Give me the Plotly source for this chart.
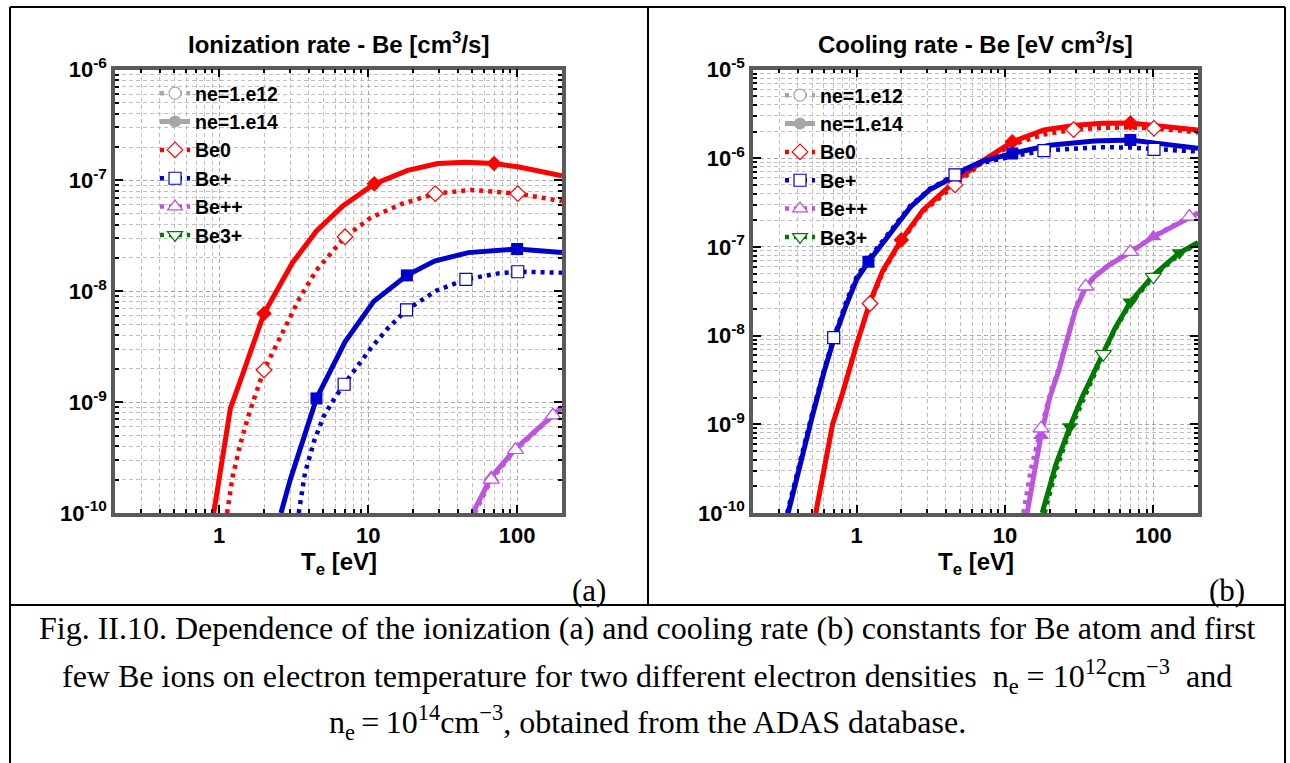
import math
import plotly.graph_objects as go

W, H = 1290, 763

# ---------------- data ----------------
# Te grid [eV] / values for panel (a): ionization rate [cm^3/s]
a_be0_e14_T = [0.92, 1.19, 1.42, 2.0, 3.1, 4.5, 6.8, 11, 18.4, 29.4, 44.6, 70, 103, 200]
a_be0_e14_v = [1.0e-10, 8.8e-10, 1.7e-9, 6.3e-9, 1.8e-8, 3.5e-8, 5.9e-8, 9.3e-8, 1.23e-7, 1.42e-7, 1.46e-7, 1.42e-7, 1.32e-7, 1.1e-7]
a_be0_e14_mk = [2.0, 11, 70]

a_be0_e12_T = [1.13, 1.23, 1.38, 1.59, 1.9, 2.0, 3.47, 4.5, 7.0, 10.4, 16.6, 28.2, 49.5, 101, 200]
a_be0_e12_v = [1.0e-10, 2.1e-10, 4.1e-10, 7.9e-10, 1.6e-9, 1.95e-9, 8.7e-9, 1.55e-8, 3.1e-8, 4.6e-8, 6.1e-8, 7.6e-8, 8.2e-8, 7.6e-8, 6.5e-8]
a_be0_e12_mk = [2.0, 7.0, 28.2, 101]

a_bep_e14_T = [2.6, 3.0, 4.5, 7.0, 10.9, 18.2, 27.9, 47, 100, 200]
a_bep_e14_v = [1.0e-10, 2.0e-10, 1.08e-9, 3.5e-9, 8.1e-9, 1.39e-8, 1.87e-8, 2.23e-8, 2.4e-8, 2.23e-8]
a_bep_e14_mk = [4.5, 18.2, 100]

a_bep_e12_T = [3.42, 3.77, 4.35, 5.04, 6.0, 6.9, 10.4, 13.5, 18.1, 28.6, 45.3, 75, 101, 200]
a_bep_e12_v = [1.0e-10, 2.3e-10, 4.5e-10, 7.5e-10, 1.1e-9, 1.45e-9, 3.05e-9, 4.6e-9, 6.8e-9, 1.01e-8, 1.28e-8, 1.45e-8, 1.5e-8, 1.47e-8]
a_bep_e12_mk = [6.9, 18.1, 45.3, 101]

a_bepp_e14_T = [50.4, 67, 97.5, 174, 200]
a_bepp_e14_v = [1.0e-10, 2.1e-10, 3.8e-10, 7.7e-10, 9.0e-10]
a_bepp_e14_mk = [67, 97.5, 174]

a_bepp_e12_T = [52, 67, 97.5, 174, 200]
a_bepp_e12_v = [1.0e-10, 2.0e-10, 3.7e-10, 7.6e-10, 8.9e-10]
a_bepp_e12_mk = [67, 97.5, 174]

# panel (b): cooling rate [eV cm^3/s]
b_be0_e14_T = [0.53, 0.6, 0.688, 0.8, 0.866, 1.0, 1.23, 1.5, 2.0, 2.8, 4.6, 7.2, 11.2, 18.3, 30, 45, 70, 100, 150, 200]
b_be0_e14_v = [1.0e-10, 3.2e-10, 1.0e-9, 2.2e-9, 3.5e-9, 8.0e-9, 2.4e-8, 5.4e-8, 1.2e-7, 2.6e-7, 5.5e-7, 9.5e-7, 1.53e-6, 2.08e-6, 2.35e-6, 2.48e-6, 2.5e-6, 2.35e-6, 2.2e-6, 2.08e-6]
b_be0_e14_mk = [2.0, 11.2, 70]

b_be0_e12_T = [0.53, 0.6, 0.688, 0.8, 0.866, 1.0, 1.23, 1.5, 2.0, 2.8, 4.6, 7.2, 11.2, 18.3, 29, 45, 70, 101, 150, 200]
b_be0_e12_v = [1.0e-10, 3.2e-10, 1.0e-9, 2.2e-9, 3.5e-9, 8.0e-9, 2.3e-8, 5.2e-8, 1.15e-7, 2.5e-7, 5.0e-7, 9.2e-7, 1.42e-6, 1.85e-6, 2.1e-6, 2.2e-6, 2.22e-6, 2.17e-6, 2.05e-6, 1.95e-6]
b_be0_e12_mk = [1.23, 4.6, 29, 101]

b_bep_e14_T = [0.345, 0.4, 0.5, 0.6, 0.7, 0.85, 1.0, 1.2, 1.7, 2.3, 3.1, 4.3, 5.3, 7.0, 11.2, 20, 40, 70, 107, 150, 200]
b_bep_e14_v = [1.0e-10, 2.8e-10, 1.2e-9, 3.8e-9, 9.0e-9, 2.2e-8, 4.3e-8, 6.8e-8, 1.42e-7, 2.8e-7, 4.4e-7, 5.9e-7, 7.4e-7, 9.2e-7, 1.13e-6, 1.4e-6, 1.56e-6, 1.6e-6, 1.47e-6, 1.38e-6, 1.29e-6]
b_bep_e14_mk = [1.2, 11.2, 70]

b_bep_e12_T = [0.34, 0.4, 0.5, 0.6, 0.7, 0.85, 1.0, 1.2, 1.7, 2.3, 3.1, 4.6, 7.0, 11.2, 18.3, 44, 70, 101, 150, 200]
b_bep_e12_v = [1.0e-10, 3.0e-10, 1.3e-9, 4.0e-9, 9.5e-9, 2.4e-8, 4.6e-8, 7.3e-8, 1.5e-7, 2.9e-7, 4.5e-7, 6.5e-7, 8.8e-7, 1.05e-6, 1.22e-6, 1.33e-6, 1.32e-6, 1.26e-6, 1.22e-6, 1.19e-6]
b_bep_e12_mk = [0.7, 4.6, 18.3, 101]

b_bepp_e14_T = [14.1, 16, 17.5, 20, 23, 26, 30, 35, 40, 50, 70, 100, 150, 200]
b_bepp_e14_v = [1.0e-10, 3.5e-10, 7.5e-10, 2.0e-9, 4.0e-9, 8.5e-9, 2.0e-8, 3.5e-8, 4.6e-8, 6.2e-8, 8.7e-8, 1.3e-7, 1.9e-7, 2.4e-7]
b_bepp_e14_mk = [17.5, 35, 100]

b_bepp_e12_T = [13.3, 15, 17.5, 20, 23, 26, 30, 35, 40, 50, 70, 100, 175, 200]
b_bepp_e12_v = [1.0e-10, 3.2e-10, 9.0e-10, 2.1e-9, 4.2e-9, 8.8e-9, 2.1e-8, 3.6e-8, 4.7e-8, 6.3e-8, 8.8e-8, 1.32e-7, 2.2e-7, 2.45e-7]
b_bepp_e12_mk = [17.5, 35, 70, 175]

b_be3p_e14_T = [17.8, 22, 27.4, 33, 38.7, 46, 55, 70, 100, 150, 200]
b_be3p_e14_v = [1.0e-10, 3.5e-10, 9.4e-10, 2.0e-9, 3.5e-9, 6.6e-9, 1.2e-8, 2.4e-8, 4.8e-8, 8.6e-8, 1.12e-7]
b_be3p_e14_mk = [27.4, 70, 150]

b_be3p_e12_T = [18.5, 22, 27.4, 33, 38.7, 46, 55, 70, 100, 150, 200]
b_be3p_e12_v = [1.0e-10, 3.0e-10, 8.5e-10, 1.8e-9, 3.2e-9, 6.2e-9, 1.15e-8, 2.3e-8, 4.6e-8, 8.3e-8, 1.1e-7]
b_be3p_e12_mk = [46, 100]

x_tick_vals = [1, 10, 100]
x_tick_text = ["1", "10", "100"]
ya_tick_exp = [-10, -9, -8, -7, -6]
yb_tick_exp = [-10, -9, -8, -7, -6, -5]

legend_labels = ["ne=1.e12", "ne=1.e14", "Be0", "Be+", "Be++", "Be3+"]
title_a = "Ionization rate - Be [cm<sup>3</sup>/s]"
title_b = "Cooling rate - Be [eV cm<sup>3</sup>/s]"
caption_lines = [
    "Fig. II.10. Dependence of the ionization (a) and cooling rate (b) constants for Be atom and first",
    "few Be ions on electron temperature for two different electron densities  n<sub>e</sub> = 10<sup>12</sup>cm<sup>\u22123</sup>  and",
    "n<sub>e</sub>\u2009=\u200910<sup>14</sup>cm<sup>\u22123</sup>, obtained from the ADAS database.",
]

# ---------------- styles ----------------
SANS = "Liberation Sans, Arial, sans-serif"
SERIF = "Liberation Serif, Times New Roman, serif"
RED, BLUE, PURPLE, GREEN, GRAY = "#ff0000", "#0000cc", "#bb55dd", "#007a00", "#a6a6a6"
DOT = "4px,5px"
LW_SOLID, LW_DOT = 5, 4.5


def X(px):
    return px / W


def Y(py):
    return 1 - py / H


fig = go.Figure()


def line(T, v, color, dotted, xa, ya):
    fig.add_trace(go.Scatter(
        x=T, y=v, mode="lines", xaxis=xa, yaxis=ya, showlegend=False, hoverinfo="skip",
        line=dict(color=color, width=LW_DOT if dotted else LW_SOLID, dash=DOT if dotted else "solid"),
    ))


def marks(T, v, mk, color, symbol, size, filled, xa, ya):
    lut = dict(zip(T, v))
    fig.add_trace(go.Scatter(
        x=list(mk), y=[lut[t] for t in mk], mode="markers", xaxis=xa, yaxis=ya,
        showlegend=False, hoverinfo="skip", cliponaxis=True,
        marker=dict(symbol=symbol, size=size, color=color if filled else "white",
                    line=dict(color=color, width=0 if filled else 1.2)),
    ))


panel_a = [
    (a_be0_e14_T, a_be0_e14_v, a_be0_e14_mk, a_be0_e12_T, a_be0_e12_v, a_be0_e12_mk, RED, "diamond", 12),
    (a_bep_e14_T, a_bep_e14_v, a_bep_e14_mk, a_bep_e12_T, a_bep_e12_v, a_bep_e12_mk, BLUE, "square", 12),
    (a_bepp_e14_T, a_bepp_e14_v, a_bepp_e14_mk, a_bepp_e12_T, a_bepp_e12_v, a_bepp_e12_mk, PURPLE, "triangle-up", 14),
]
panel_b = [
    (b_be0_e14_T, b_be0_e14_v, b_be0_e14_mk, b_be0_e12_T, b_be0_e12_v, b_be0_e12_mk, RED, "diamond", 12),
    (b_bep_e14_T, b_bep_e14_v, b_bep_e14_mk, b_bep_e12_T, b_bep_e12_v, b_bep_e12_mk, BLUE, "square", 12),
    (b_bepp_e14_T, b_bepp_e14_v, b_bepp_e14_mk, b_bepp_e12_T, b_bepp_e12_v, b_bepp_e12_mk, PURPLE, "triangle-up", 14),
    (b_be3p_e14_T, b_be3p_e14_v, b_be3p_e14_mk, b_be3p_e12_T, b_be3p_e12_v, b_be3p_e12_mk, GREEN, "triangle-down", 14),
]

for series, xa, ya in [(panel_a, "x", "y"), (panel_b, "x2", "y2")]:
    for (T14, v14, m14, T12, v12, m12, col, sym, sz) in series:
        line(T14, v14, col, False, xa, ya)
        line(T12, v12, col, True, xa, ya)
    for (T14, v14, m14, T12, v12, m12, col, sym, sz) in series:
        marks(T14, v14, m14, col, sym, sz, True, xa, ya)
        marks(T12, v12, m12, col, sym, sz, False, xa, ya)

# legend-only traces
leg_style = [
    (GRAY, True, "circle", 12, False),
    (GRAY, False, "circle", 12, True),
    (RED, True, "diamond", 12, False),
    (BLUE, True, "square", 12, False),
    (PURPLE, True, "triangle-up", 13, False),
    (GREEN, True, "triangle-down", 13, False),
]
for lg, xa, ya in [("legend", "x", "y"), ("legend2", "x2", "y2")]:
    for name, (col, dotted, sym, sz, filled) in zip(legend_labels, leg_style):
        fig.add_trace(go.Scatter(
            x=[None], y=[None], mode="lines+markers", name=name, legend=lg, xaxis=xa, yaxis=ya,
            line=dict(color=col, width=LW_DOT if dotted else LW_SOLID, dash=DOT if dotted else "solid"),
            marker=dict(symbol=sym, size=sz, color=col if filled else "white",
                        line=dict(color=col, width=0 if filled else 1.2)),
        ))

XLO, XHI = math.log10(0.2), math.log10(200)
x_minor = [d * 10 ** k for k in range(-1, 3) for d in range(2, 10) if 0.2 <= d * 10 ** k <= 200]


def y_minor(lo, hi):
    return [d * 10.0 ** k for k in range(lo, hi) for d in range(2, 10)]


def axis_common(tickvals, ticktext, minor_vals):
    return dict(
        type="log", showline=True, linecolor="#5a5a5a", linewidth=3.5, mirror="ticks",
        ticks="inside", ticklen=8, tickwidth=2, tickcolor="black", automargin=False,
        showgrid=True, gridcolor="#aaaaaa", gridwidth=1, griddash="4px,3px", zeroline=False,
        tickmode="array", tickvals=tickvals, ticktext=ticktext,
        tickfont=dict(family=SANS, size=22, color="black", weight="bold"),
        minor=dict(tickmode="array", tickvals=minor_vals, ticks="inside", ticklen=4, tickwidth=1.5,
                   tickcolor="black", showgrid=True, gridcolor="#c0c0c0", gridwidth=1, griddash="4px,3px"),
    )


PT, PB = 69.5, 513.0
XA, XB = (115, 562), (753, 1198)
YA_RANGE, YB_RANGE = (-10, -6), (-10, -5)
yd = [Y(PB), Y(PT)]
xa_cfg = axis_common(x_tick_vals, x_tick_text, x_minor)
xb_cfg = axis_common(x_tick_vals, x_tick_text, x_minor)
ya_cfg = axis_common([10.0 ** e for e in ya_tick_exp], ["10<sup>%d</sup>" % e for e in ya_tick_exp], y_minor(-10, -6))
yb_cfg = axis_common([10.0 ** e for e in yb_tick_exp], ["10<sup>%d</sup>" % e for e in yb_tick_exp], y_minor(-10, -5))

leg_font = dict(family=SANS, size=19.5, color="black", weight="bold")
fig.update_layout(
    width=W, height=H, autosize=False,
    margin=dict(l=0, r=0, t=0, b=0, pad=0, autoexpand=False),
    paper_bgcolor="white", plot_bgcolor="white",
    xaxis=dict(xa_cfg, domain=[X(XA[0]), X(XA[1])], anchor="y", range=[XLO, XHI]),
    yaxis=dict(ya_cfg, domain=yd, anchor="x", range=list(YA_RANGE)),
    xaxis2=dict(xb_cfg, domain=[X(XB[0]), X(XB[1])], anchor="y2", range=[XLO, XHI]),
    yaxis2=dict(yb_cfg, domain=yd, anchor="x2", range=list(YB_RANGE)),
    legend=dict(x=X(155), y=Y(74), xanchor="left", yanchor="top", bgcolor="rgba(0,0,0,0)", borderwidth=0,
                font=leg_font, tracegroupgap=0),
    legend2=dict(x=X(780), y=Y(76), xanchor="left", yanchor="top", bgcolor="rgba(0,0,0,0)", borderwidth=0,
                 font=leg_font, tracegroupgap=0),
    showlegend=True,
)

ann = []
bold = dict(family=SANS, size=24, color="black", weight="bold")
ann.append(dict(x=X(338.5), y=Y(43), text=title_a, font=bold))
ann.append(dict(x=X(975.5), y=Y(43), text=title_b, font=bold))
ann.append(dict(x=X(339), y=Y(563), text="T<sub>e</sub> [eV]", font=dict(bold, size=24)))
ann.append(dict(x=X(976), y=Y(563), text="T<sub>e</sub> [eV]", font=dict(bold, size=24)))
ann.append(dict(x=X(589), y=Y(590), text="(a)", font=dict(family=SERIF, size=31, color="black")))
ann.append(dict(x=X(1227), y=Y(590), text="(b)", font=dict(family=SERIF, size=31, color="black")))
for txt, py in zip(caption_lines, [628, 676, 722]):
    ann.append(dict(x=X(647), y=Y(py), text=txt, font=dict(family=SERIF, size=32, color="black")))
for a in ann:
    a.update(xref="paper", yref="paper", showarrow=False, xanchor="center", yanchor="middle")
fig.update_layout(annotations=ann)

shapes = []
# white backing behind the legend texts (hides grid, stays under the curves)
legend_backs = [
    ("x", "y", XA, YA_RANGE, [(127, 83, 293, 139), (127, 139, 266, 248)]),
    ("x2", "y2", XB, YB_RANGE, [(765, 85, 916, 141), (765, 141, 880, 250)]),
]
for xr, yr, (xl, xh), (ylo, yhi), rects in legend_backs:
    def lx(px):
        return XLO + (px - xl) / (xh - xl) * (XHI - XLO)

    def ly(py):
        return yhi - (py - PT) / (PB - PT) * (yhi - ylo)

    for (x0, y0, x1, y1) in rects:
        shapes.append(dict(
            type="rect", xref=xr, yref=yr, layer="between",
            x0=lx(x0), x1=lx(x1), y0=ly(y1), y1=ly(y0),
            fillcolor="white", line=dict(width=0),
        ))

# table borders
border = [
    (10, 7, 1285, 7), (10, 7, 10, 763), (1285, 7, 1285, 763),
    (648, 7, 648, 605), (10, 605, 1285, 605),
]
for (a, b, c, d) in border:
    shapes.append(dict(type="line", xref="paper", yref="paper", x0=X(a), y0=Y(b), x1=X(c), y1=Y(d),
                       line=dict(color="black", width=2)))
fig.update_layout(shapes=shapes)

fig.write_html("out.html")
